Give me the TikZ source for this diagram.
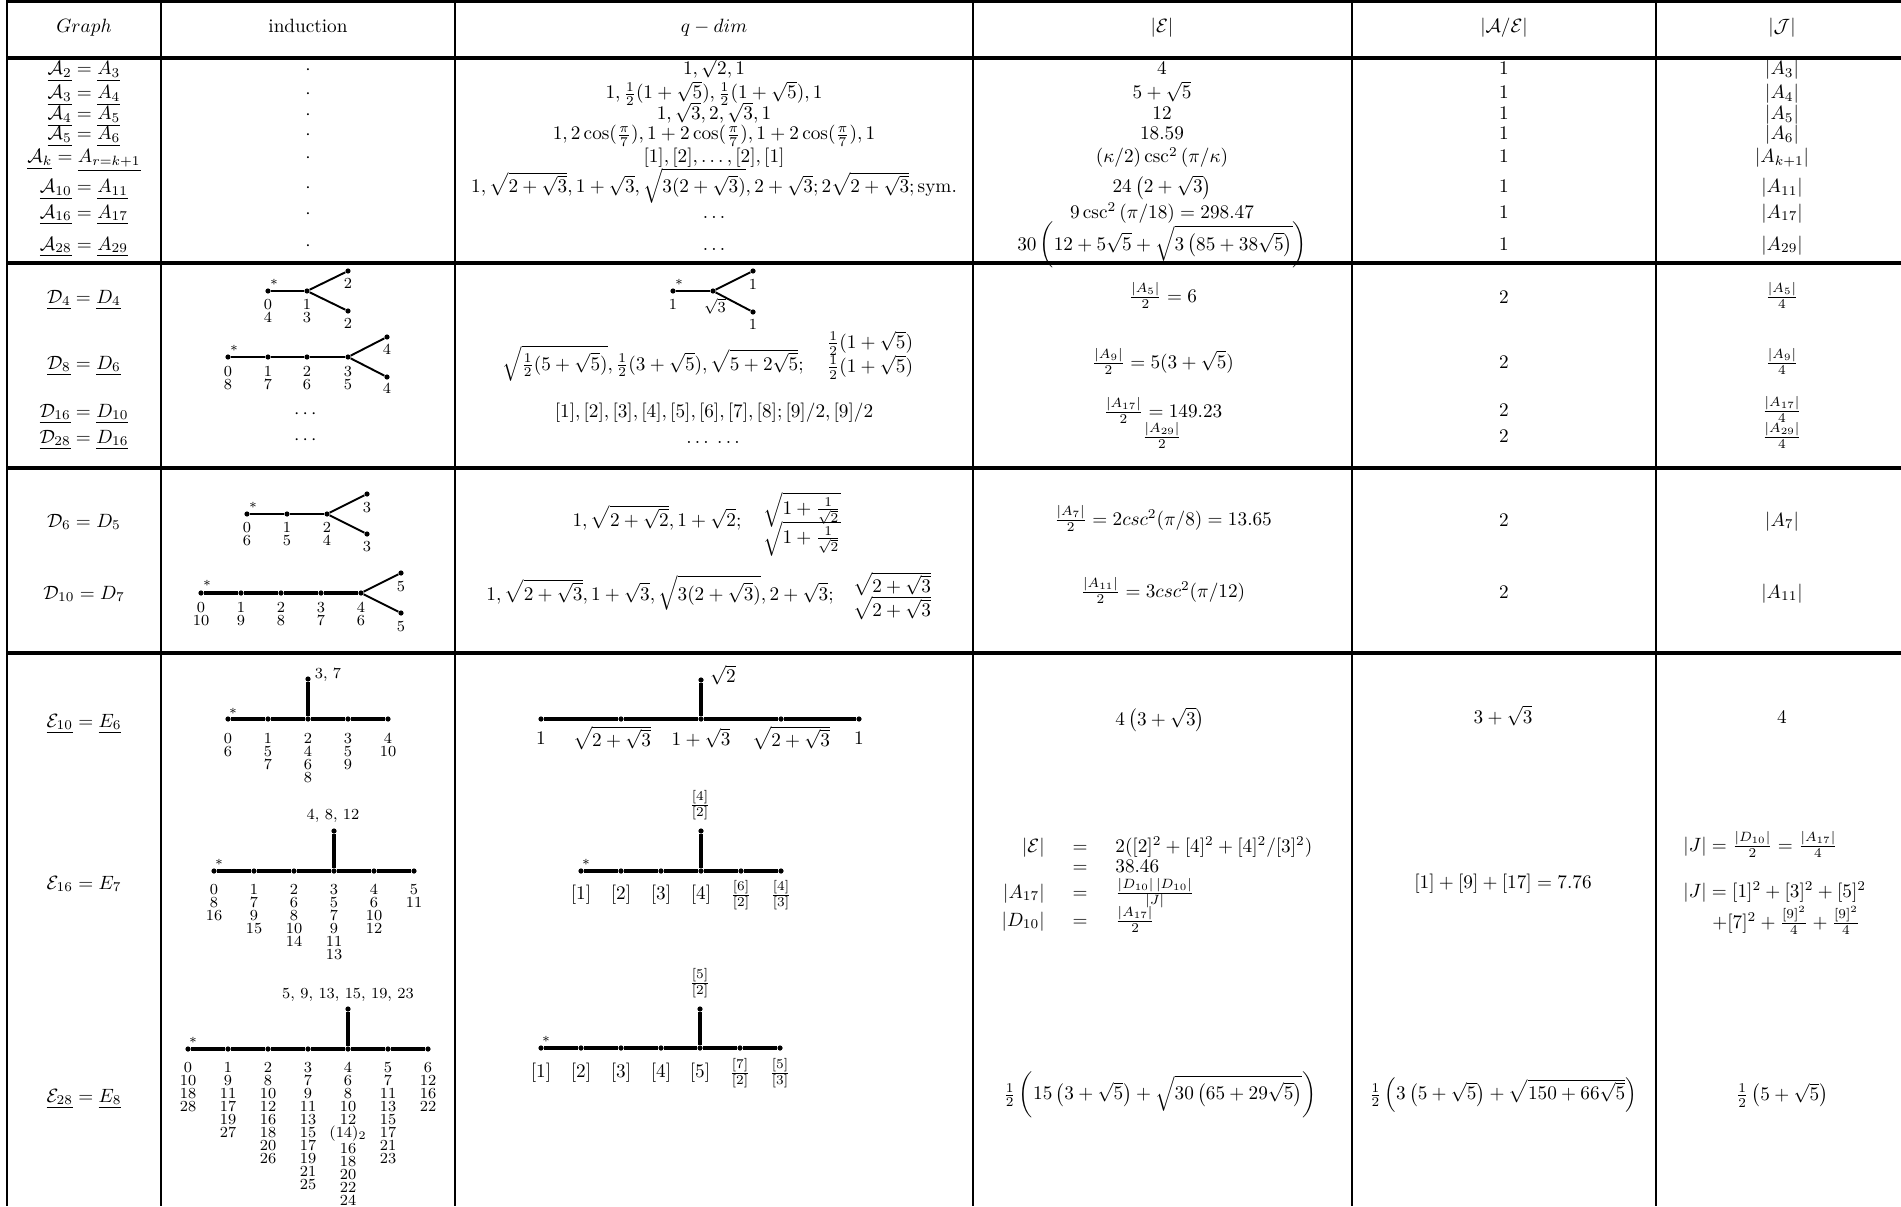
\documentclass[tikz,border=0pt]{standalone}
\usepackage{amsmath}
\usepackage{amssymb}
\begin{document}
\begin{tikzpicture}[x=0.52pt,y=-0.52pt,
  hline/.style={line width=1.6pt},
  vmaj/.style={line width=1.5pt},
  vmin/.style={line width=1.1pt},
  dot/.style={circle,fill=black,inner sep=0pt,minimum size=2.7pt},
  edg/.style={line width=1.0pt},
  edgb/.style={line width=1.6pt},
  cell/.style={inner sep=0pt,anchor=base},
  ctr/.style={inner sep=0pt},
  lab/.style={inner sep=0pt,font=\fontsize{8}{6.75}\selectfont},
  stk/.style={lab,align=center,anchor=north},
  star/.style={inner sep=0pt,font=\scriptsize},
  lw/.style={inner sep=0pt,anchor=base west},
  le/.style={inner sep=0pt,anchor=base east},
]
\useasboundingbox (0,0) rectangle (1901,1206);
\fill[white] (0,0) rectangle (1901,1206);
% ---------- grid ----------
\draw[hline] (7,1.5) -- (1901,1.5);
\draw[hline] (7,58) -- (1901,58);
\draw[hline] (7,263) -- (1901,263);
\draw[hline] (7,468) -- (1901,468);
\draw[hline] (7,653) -- (1901,653);
\draw[vmaj] (7,0) -- (7,1206);
\draw[vmaj] (161,0) -- (161,1206);
\draw[vmaj] (455,0) -- (455,1206);
\draw[vmaj] (973,0) -- (973,1206);
\draw[vmin] (1352,0) -- (1352,1206);
\draw[vmin] (1656,0) -- (1656,1206);
% ---------- header ----------
\node[cell] (hG) at (84,33) {$Graph$};
\node[cell] (hI) at (308,33) {induction};
\node[cell] (hQ) at (714,33) {$q-dim$};
\node[cell] (hE) at (1162,33) {$|\mathcal{E}|$};
\node[cell] (hAE) at (1504,33) {$|\mathcal{A}/\mathcal{E}|$};
\node[cell] (hJ) at (1782,33) {$|\mathcal{J}|$};
% ---------- A block ----------
\node[cell] (g1) at (84,75) {$\underline{\mathcal{A}_2}=\underline{A_3}$};
\node[cell] (g2) at (84,99) {$\underline{\mathcal{A}_3}=\underline{A_4}$};
\node[cell] (g3) at (84,120) {$\underline{\mathcal{A}_4}=\underline{A_5}$};
\node[cell] (g4) at (84,140) {$\underline{\mathcal{A}_5}=\underline{A_6}$};
\node[cell] (g5) at (84,163) {$\underline{\mathcal{A}_k}=\underline{A_{r=k+1}}$};
\node[cell] (g6) at (84,193) {$\underline{\mathcal{A}_{10}}=\underline{A_{11}}$};
\node[cell] (g7) at (84,218) {$\underline{\mathcal{A}_{16}}=\underline{A_{17}}$};
\node[cell] (g8) at (84,250) {$\underline{\mathcal{A}_{28}}=\underline{A_{29}}$};
\node[cell] (i1) at (308,75) {$\cdot$};
\node[cell] (i2) at (308,99) {$\cdot$};
\node[cell] (i3) at (308,120) {$\cdot$};
\node[cell] (i4) at (308,140) {$\cdot$};
\node[cell] (i5) at (308,163) {$\cdot$};
\node[cell] (i6) at (308,193) {$\cdot$};
\node[cell] (i7) at (308,218) {$\cdot$};
\node[cell] (i8) at (308,250) {$\cdot$};
\node[cell] (q1) at (714,75) {$1,\sqrt{2},1$};
\node[cell] (q2) at (714,99) {$1,\tfrac{1}{2}(1+\sqrt{5}),\tfrac{1}{2}(1+\sqrt{5}),1$};
\node[cell] (q3) at (714,120) {$1,\sqrt{3},2,\sqrt{3},1$};
\node[cell] (q4) at (714,140) {$1,2\cos(\tfrac{\pi}{7}),1+2\cos(\tfrac{\pi}{7}),1+2\cos(\tfrac{\pi}{7}),1$};
\node[cell] (q5) at (714,163) {$[1],[2],\ldots,[2],[1]$};
\node[cell] (q6) at (714,193) {$1,\sqrt{2+\sqrt{3}},1+\sqrt{3},\sqrt{3(2+\sqrt{3})},2+\sqrt{3};2\sqrt{2+\sqrt{3}};\mathrm{sym.}$};
\node[cell] (q7) at (714,218) {$\ldots$};
\node[cell] (q8) at (714,250) {$\ldots$};
\node[cell] (e1) at (1162,75) {$4$};
\node[cell] (e2) at (1162,99) {$5+\sqrt{5}$};
\node[cell] (e3) at (1162,120) {$12$};
\node[cell] (e4) at (1162,140) {$18.59$};
\node[cell] (e5) at (1162,163) {$(\kappa/2)\csc^2\left(\pi/\kappa\right)$};
\node[cell] (e6) at (1162,193) {$24\left(2+\sqrt{3}\right)$};
\node[cell] (e7) at (1162,218) {$9\csc^2\left(\pi/18\right)=298.47$};
\node[cell] (e8) at (1162,250) {$30\left(12+5\sqrt{5}+\sqrt{3\left(85+38\sqrt{5}\right)}\right)$};
\node[cell] (r1) at (1504,75) {$1$};
\node[cell] (r2) at (1504,99) {$1$};
\node[cell] (r3) at (1504,120) {$1$};
\node[cell] (r4) at (1504,140) {$1$};
\node[cell] (r5) at (1504,163) {$1$};
\node[cell] (r6) at (1504,193) {$1$};
\node[cell] (r7) at (1504,218) {$1$};
\node[cell] (r8) at (1504,250) {$1$};
\node[cell] (j1) at (1782,75) {$|A_3|$};
\node[cell] (j2) at (1782,99) {$|A_4|$};
\node[cell] (j3) at (1782,120) {$|A_5|$};
\node[cell] (j4) at (1782,140) {$|A_6|$};
\node[cell] (j5) at (1782,163) {$|A_{k+1}|$};
\node[cell] (j6) at (1782,193) {$|A_{11}|$};
\node[cell] (j7) at (1782,218) {$|A_{17}|$};
\node[cell] (j8) at (1782,250) {$|A_{29}|$};
% ---------- D block ----------
\node[cell] (g9) at (84,303) {$\underline{\mathcal{D}_4}=\underline{D_4}$};
\node[cell] (g10) at (84,369) {$\underline{\mathcal{D}_8}=\underline{D_6}$};
\node[cell] (g11) at (84,417) {$\underline{\mathcal{D}_{16}}=\underline{D_{10}}$};
\node[cell] (g12) at (84,443) {$\underline{\mathcal{D}_{28}}=\underline{D_{16}}$};
% D4 graph
\node[dot] (a0) at (268,291) {};
\node[dot] (a1) at (307,291) {};
\node[dot] (a2) at (348,271) {};
\node[dot] (a3) at (348,311) {};
\draw[edg] (a0) -- (a1); \draw[edg] (a1) -- (a2); \draw[edg] (a1) -- (a3);
\node[star] (as) at (274,282) {$\ast$};
\node[stk] (al0) at (268,299) {0\\4};
\node[stk] (al1) at (307,299) {1\\3};
\node[lab] (al2) at (348,283) {2};
\node[lab] (al3) at (348,323) {2};
% D8 graph
\node[dot] (b0) at (228,357) {};
\node[dot] (b1) at (268,357) {};
\node[dot] (b2) at (307,357) {};
\node[dot] (b3) at (348,357) {};
\node[dot] (b4) at (387,337) {};
\node[dot] (b5) at (387,377) {};
\draw[edg] (b0) -- (b1); \draw[edg] (b1) -- (b2); \draw[edg] (b2) -- (b3);
\draw[edg] (b3) -- (b4); \draw[edg] (b3) -- (b5);
\node[star] (bs) at (234,348) {$\ast$};
\node[stk] (bl0) at (228,366) {0\\8};
\node[stk] (bl1) at (268,366) {1\\7};
\node[stk] (bl2) at (307,366) {2\\6};
\node[stk] (bl3) at (348,366) {3\\5};
\node[lab] (bl4) at (387,349) {4};
\node[lab] (bl5) at (387,388) {4};
\node[ctr] (i9) at (307,414) {$\cdots$};
\node[ctr] (i10) at (307,440) {$\cdots$};
% q-dim D
\node[dot] (f0) at (673,291) {};
\node[dot] (f1) at (713,291) {};
\node[dot] (f2) at (753,271) {};
\node[dot] (f3) at (753,312) {};
\draw[edg] (f0) -- (f1); \draw[edg] (f1) -- (f2); \draw[edg] (f1) -- (f3);
\node[star] (fs) at (679,282) {$\ast$};
\node[lab] (fl0) at (673,304) {1};
\node[lab] (fl1) at (715,306) {$\sqrt{3}$};
\node[lab] (fl2) at (753,284) {1};
\node[lab] (fl3) at (753,324) {1};
\node[cell] (q10) at (653,370) {$\sqrt{\tfrac{1}{2}(5+\sqrt{5})},\tfrac{1}{2}(3+\sqrt{5}),\sqrt{5+2\sqrt{5}};$};
\node[ctr] (q10b) at (870,343) {$\tfrac{1}{2}(1+\sqrt{5})$};
\node[ctr] (q10c) at (870,367) {$\tfrac{1}{2}(1+\sqrt{5})$};
\node[cell] (q11) at (714,417) {$[1],[2],[3],[4],[5],[6],[7],[8];[9]/2,[9]/2$};
\node[cell] (q12) at (713,443) {$\ldots\;\ldots$};
\node[cell] (e9) at (1163,302) {$\tfrac{|A_5|}{2}=6$};
\node[cell] (e10) at (1163,368) {$\tfrac{|A_9|}{2}=5(3+\sqrt{5})$};
\node[cell] (e11) at (1163,417) {$\tfrac{|A_{17}|}{2}=149.23$};
\node[cell] (e12) at (1162,442) {$\tfrac{|A_{29}|}{2}$};
\node[cell] (r9) at (1504,303) {$2$};
\node[cell] (r10) at (1504,368) {$2$};
\node[cell] (r11) at (1504,416) {$2$};
\node[cell] (r12) at (1504,442) {$2$};
\node[cell] (j9) at (1782,302) {$\tfrac{|A_5|}{4}$};
\node[cell] (j10) at (1782,368) {$\tfrac{|A_9|}{4}$};
\node[cell] (j11) at (1782,416) {$\tfrac{|A_{17}|}{4}$};
\node[cell] (j12) at (1782,442) {$\tfrac{|A_{29}|}{4}$};
% ---------- D6 / D10 block ----------
\node[cell] (g13) at (84,527) {$\mathcal{D}_6=D_5$};
\node[cell] (g14) at (84,599) {$\mathcal{D}_{10}=D_7$};
\node[dot] (c0) at (247,514) {};
\node[dot] (c1) at (287,514) {};
\node[dot] (c2) at (327,514) {};
\node[dot] (c3) at (367,494) {};
\node[dot] (c4) at (367,534) {};
\draw[edg] (c0) -- (c1); \draw[edg] (c1) -- (c2);
\draw[edg] (c2) -- (c3); \draw[edg] (c2) -- (c4);
\node[star] (cs) at (253,505) {$\ast$};
\node[stk] (cl0) at (247,522) {0\\6};
\node[stk] (cl1) at (287,522) {1\\5};
\node[stk] (cl2) at (327,522) {2\\4};
\node[lab] (cl3) at (367,508) {3};
\node[lab] (cl4) at (367,547) {3};
\node[dot] (d0) at (201,593) {};
\node[dot] (d1) at (241,593) {};
\node[dot] (d2) at (281,593) {};
\node[dot] (d3) at (321,593) {};
\node[dot] (d4) at (361,593) {};
\node[dot] (d5) at (401,573) {};
\node[dot] (d6) at (401,613) {};
\draw[edgb] (d0) -- (d1); \draw[edgb] (d1) -- (d2); \draw[edgb] (d2) -- (d3); \draw[edgb] (d3) -- (d4);
\draw[edg] (d4) -- (d5); \draw[edg] (d4) -- (d6);
\node[star] (ds) at (207,583) {$\ast$};
\node[stk] (dl0) at (201,602) {0\\10};
\node[stk] (dl1) at (241,602) {1\\9};
\node[stk] (dl2) at (281,602) {2\\8};
\node[stk] (dl3) at (321,602) {3\\7};
\node[stk] (dl4) at (361,602) {4\\6};
\node[lab] (dl5) at (401,587) {5};
\node[lab] (dl6) at (401,627) {5};
\node[cell] (q13) at (657,526) {$1,\sqrt{2+\sqrt{2}},1+\sqrt{2};$};
\node[ctr] (q13b) at (802,510) {$\sqrt{1+\tfrac{1}{\sqrt{2}}}$};
\node[ctr] (q13c) at (802,539) {$\sqrt{1+\tfrac{1}{\sqrt{2}}}$};
\node[cell] (q14) at (660,600) {$1,\sqrt{2+\sqrt{3}},1+\sqrt{3},\sqrt{3(2+\sqrt{3})},2+\sqrt{3};$};
\node[ctr] (q14b) at (892,584) {$\sqrt{2+\sqrt{3}}$};
\node[ctr] (q14c) at (892,608) {$\sqrt{2+\sqrt{3}}$};
\node[cell] (e13) at (1163,525) {$\tfrac{|A_7|}{2}=2csc^2(\pi/8)=13.65$};
\node[cell] (e14) at (1163,597) {$\tfrac{|A_{11}|}{2}=3csc^2(\pi/12)$};
\node[cell] (r13) at (1504,526) {$2$};
\node[cell] (r14) at (1504,598) {$2$};
\node[cell] (j13) at (1782,526) {$|A_7|$};
\node[cell] (j14) at (1782,598) {$|A_{11}|$};
% ---------- E block ----------
\node[cell] (g15) at (84,727) {$\underline{\mathcal{E}_{10}}=\underline{E_6}$};
\node[cell] (g16) at (84,889) {$\mathcal{E}_{16}=E_7$};
\node[cell] (g17) at (84,1102) {$\underline{\mathcal{E}_{28}}=\underline{E_8}$};
% E6 graph
\node[dot] (k0) at (228,719) {};
\node[dot] (k1) at (268,719) {};
\node[dot] (k2) at (308,719) {};
\node[dot] (k3) at (348,719) {};
\node[dot] (k4) at (388,719) {};
\node[dot] (kt) at (308,679) {};
\draw[edgb] (k0) -- (k1); \draw[edgb] (k1) -- (k2); \draw[edgb] (k2) -- (k3); \draw[edgb] (k3) -- (k4);
\draw[edgb] (k2) -- (kt);
\node[star] (ks) at (233,711) {$\ast$};
\node[lab] (klt) at (328,675) {3, 7};
\node[stk] (kl0) at (228,733) {0\\6};
\node[stk] (kl1) at (268,733) {1\\5\\7};
\node[stk] (kl2) at (308,733) {2\\4\\6\\8};
\node[stk] (kl3) at (348,733) {3\\5\\9};
\node[stk] (kl4) at (388,733) {4\\10};
% E7 graph
\node[dot] (h0) at (214,871) {};
\node[dot] (h1) at (254,871) {};
\node[dot] (h2) at (294,871) {};
\node[dot] (h3) at (334,871) {};
\node[dot] (h4) at (374,871) {};
\node[dot] (h5) at (414,871) {};
\node[dot] (ht) at (334,831) {};
\draw[edgb] (h0) -- (h1); \draw[edgb] (h1) -- (h2); \draw[edgb] (h2) -- (h3);
\draw[edgb] (h3) -- (h4); \draw[edgb] (h4) -- (h5); \draw[edgb] (h3) -- (ht);
\node[star] (hs) at (219,862) {$\ast$};
\node[lab] (hlt) at (333,816) {4, 8, 12};
\node[stk] (hl0) at (214,884) {0\\8\\16};
\node[stk] (hl1) at (254,884) {1\\7\\9\\15};
\node[stk] (hl2) at (294,884) {2\\6\\8\\10\\14};
\node[stk] (hl3) at (334,884) {3\\5\\7\\9\\11\\13};
\node[stk] (hl4) at (374,884) {4\\6\\10\\12};
\node[stk] (hl5) at (414,884) {5\\11};
% E8 graph
\node[dot] (m0) at (188,1049) {};
\node[dot] (m1) at (228,1049) {};
\node[dot] (m2) at (268,1049) {};
\node[dot] (m3) at (308,1049) {};
\node[dot] (m4) at (348,1049) {};
\node[dot] (m5) at (388,1049) {};
\node[dot] (m6) at (428,1049) {};
\node[dot] (mt) at (348,1009) {};
\draw[edgb] (m0) -- (m1); \draw[edgb] (m1) -- (m2); \draw[edgb] (m2) -- (m3);
\draw[edgb] (m3) -- (m4); \draw[edgb] (m4) -- (m5); \draw[edgb] (m5) -- (m6);
\draw[edgb] (m4) -- (mt);
\node[star] (ms) at (193,1040) {$\ast$};
\node[lab] (mlt) at (348,995) {5, 9, 13, 15, 19, 23};
\node[stk] (ml0) at (188,1062) {0\\10\\18\\28};
\node[stk] (ml1) at (228,1062) {1\\9\\11\\17\\19\\27};
\node[stk] (ml2) at (268,1062) {2\\8\\10\\12\\16\\18\\20\\26};
\node[stk] (ml3) at (308,1062) {3\\7\\9\\11\\13\\15\\17\\19\\21\\25};
\node[stk] (ml4) at (348,1062) {4\\6\\8\\10\\12\\(14)$_2$\\16\\18\\20\\22\\24};
\node[stk] (ml5) at (388,1062) {5\\7\\11\\13\\15\\17\\21\\23};
\node[stk] (ml6) at (428,1062) {6\\12\\16\\22};
% E6 q-dim
\node[dot] (n0) at (541,719) {};
\node[dot] (n1) at (621,719) {};
\node[dot] (n2) at (701,719) {};
\node[dot] (n3) at (781,719) {};
\node[dot] (n4) at (859,719) {};
\node[dot] (nt) at (701,680) {};
\draw[edgb] (n0) -- (n1); \draw[edgb] (n1) -- (n2); \draw[edgb] (n2) -- (n3); \draw[edgb] (n3) -- (n4);
\draw[edgb] (n2) -- (nt);
\node[ctr] (nlt) at (723,675) {$\sqrt{2}$};
\node[ctr] (nl0) at (541,738) {$1$};
\node[ctr] (nl1) at (612,738) {$\sqrt{2+\sqrt{3}}$};
\node[ctr] (nl2) at (701,738) {$1+\sqrt{3}$};
\node[ctr] (nl3) at (791,738) {$\sqrt{2+\sqrt{3}}$};
\node[ctr] (nl4) at (859,738) {$1$};
% E7 q-dim
\node[dot] (o0) at (581,871) {};
\node[dot] (o1) at (621,871) {};
\node[dot] (o2) at (661,871) {};
\node[dot] (o3) at (701,871) {};
\node[dot] (o4) at (741,871) {};
\node[dot] (o5) at (781,871) {};
\node[dot] (ot) at (701,831) {};
\draw[edgb] (o0) -- (o1); \draw[edgb] (o1) -- (o2); \draw[edgb] (o2) -- (o3);
\draw[edgb] (o3) -- (o4); \draw[edgb] (o4) -- (o5); \draw[edgb] (o3) -- (ot);
\node[star] (os) at (586,862) {$\ast$};
\node[ctr] (olt) at (700,805) {$\frac{[4]}{[2]}$};
\node[ctr] (ol0) at (581,895) {$[1]$};
\node[ctr] (ol1) at (621,895) {$[2]$};
\node[ctr] (ol2) at (661,895) {$[3]$};
\node[ctr] (ol3) at (701,895) {$[4]$};
\node[ctr] (ol4) at (741,895) {$\frac{[6]}{[2]}$};
\node[ctr] (ol5) at (781,895) {$\frac{[4]}{[3]}$};
% E8 q-dim
\node[dot] (p0) at (541,1048) {};
\node[dot] (p1) at (581,1048) {};
\node[dot] (p2) at (621,1048) {};
\node[dot] (p3) at (661,1048) {};
\node[dot] (p4) at (700,1048) {};
\node[dot] (p5) at (740,1048) {};
\node[dot] (p6) at (780,1048) {};
\node[dot] (pt) at (700,1009) {};
\draw[edgb] (p0) -- (p1); \draw[edgb] (p1) -- (p2); \draw[edgb] (p2) -- (p3);
\draw[edgb] (p3) -- (p4); \draw[edgb] (p4) -- (p5); \draw[edgb] (p5) -- (p6);
\draw[edgb] (p4) -- (pt);
\node[star] (ps) at (546,1039) {$\ast$};
\node[ctr] (plt) at (700,983) {$\frac{[5]}{[2]}$};
\node[ctr] (pl0) at (541,1073) {$[1]$};
\node[ctr] (pl1) at (581,1073) {$[2]$};
\node[ctr] (pl2) at (621,1073) {$[3]$};
\node[ctr] (pl3) at (661,1073) {$[4]$};
\node[ctr] (pl4) at (700,1073) {$[5]$};
\node[ctr] (pl5) at (740,1073) {$\frac{[7]}{[2]}$};
\node[ctr] (pl6) at (780,1073) {$\frac{[5]}{[3]}$};
% E columns 4-6
\node[cell] (e15) at (1160,725) {$4\left(3+\sqrt{3}\right)$};
\node[cell] (r15) at (1503,723) {$3+\sqrt{3}$};
\node[cell] (j15) at (1782,723) {$4$};
\node[le] (eaL1) at (1045,852) {$|\mathcal{E}|$};
\node[cell] (eaE1) at (1080,852) {$=$};
\node[lw] (eaR1) at (1115,852) {$2([2]^2+[4]^2+[4]^2/[3]^2)$};
\node[cell] (eaE2) at (1080,872) {$=$};
\node[lw] (eaR2) at (1115,872) {$38.46$};
\node[le] (eaL3) at (1045,898) {$|A_{17}|$};
\node[cell] (eaE3) at (1080,898) {$=$};
\node[lw] (eaR3) at (1115,898) {$\frac{|D_{10}|\,|D_{10}|}{|J|}$};
\node[le] (eaL4) at (1045,926) {$|D_{10}|$};
\node[cell] (eaE4) at (1080,926) {$=$};
\node[lw] (eaR4) at (1115,926) {$\frac{|A_{17}|}{2}$};
\node[cell] (r16) at (1503,888) {$[1]+[9]+[17]=7.76$};
\node[lw] (j16a) at (1683,851) {$|J|=\frac{|D_{10}|}{2}=\frac{|A_{17}|}{4}$};
\node[lw] (j16b) at (1683,897) {$|J|=[1]^2+[3]^2+[5]^2$};
\node[lw] (j16c) at (1712,928) {$+[7]^2+\frac{[9]^2}{4}+\frac{[9]^2}{4}$};
\node[ctr] (e17) at (1160,1095) {$\frac{1}{2}\left(15\left(3+\sqrt{5}\right)+\sqrt{30\left(65+29\sqrt{5}\right)}\right)$};
\node[ctr] (r17) at (1503,1095) {$\frac{1}{2}\left(3\left(5+\sqrt{5}\right)+\sqrt{150+66\sqrt{5}}\right)$};
\node[ctr] (j17) at (1782,1095) {$\frac{1}{2}\left(5+\sqrt{5}\right)$};
\end{tikzpicture}
\end{document}
